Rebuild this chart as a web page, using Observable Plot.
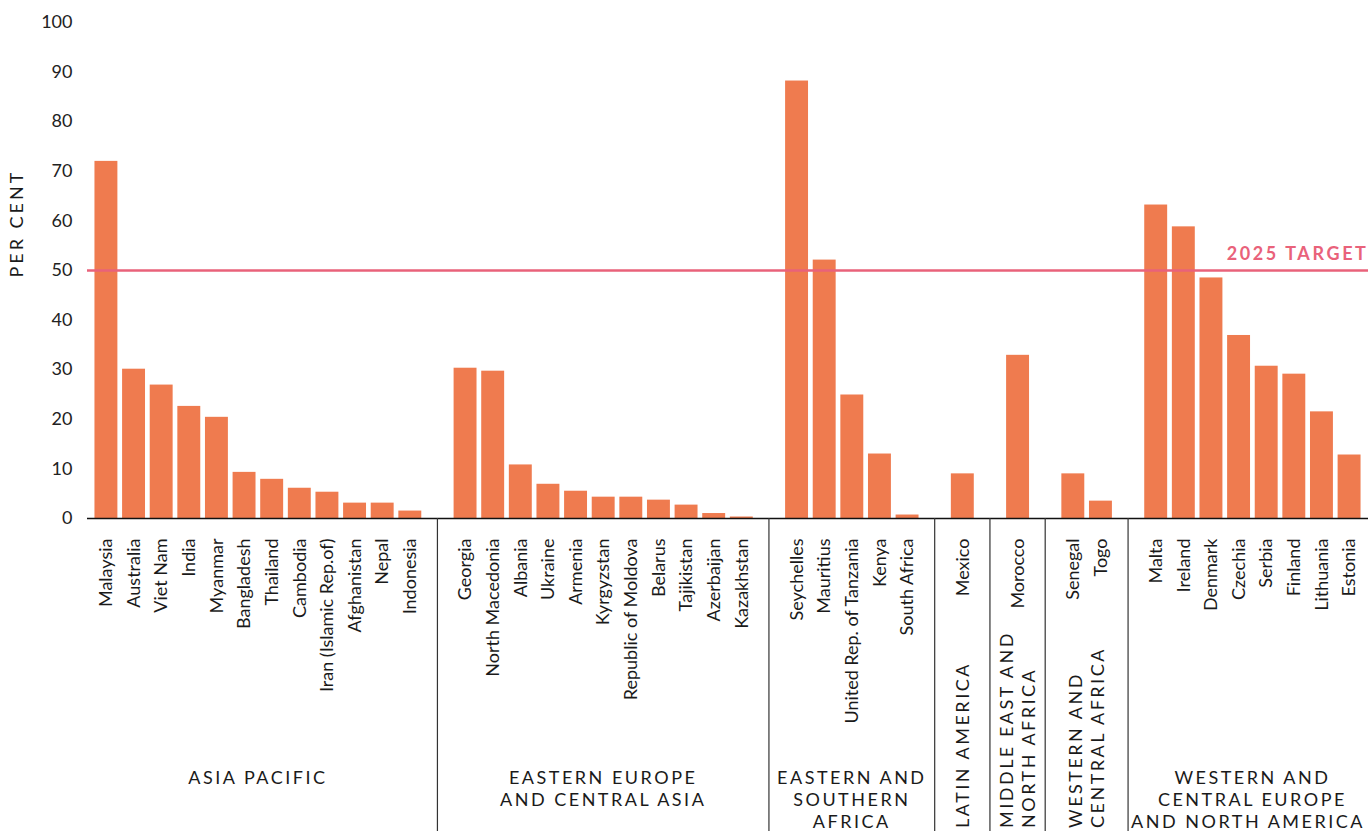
<!DOCTYPE html>
<html>
<head>
<meta charset="utf-8">
<script src="https://cdn.jsdelivr.net/npm/d3@7"></script>
<script src="https://cdn.jsdelivr.net/npm/@observablehq/plot@0.6"></script>
<style>
  html, body { margin: 0; padding: 0; background: #ffffff; }
  #chart svg { display: block; }
</style>
</head>
<body>
<div id="chart"></div>
<script>
// ---- Data ----
const regionLabels = [
  "ASIA PACIFIC",
  "EASTERN EUROPE\nAND CENTRAL ASIA",
  "EASTERN AND\nSOUTHERN\nAFRICA",
  "LATIN AMERICA",
  "MIDDLE EAST AND\nNORTH AFRICA",
  "WESTERN AND\nCENTRAL AFRICA",
  "WESTERN AND\nCENTRAL EUROPE\nAND NORTH AMERICA"
];
const regionVertical = [false, false, false, true, true, true, false];

const asiaPacificCountries = ["Malaysia", "Australia", "Viet Nam", "India", "Myanmar", "Bangladesh", "Thailand", "Cambodia", "Iran (Islamic Rep.of)", "Afghanistan", "Nepal", "Indonesia"];
const asiaPacificValues = [72, 30.1, 26.9, 22.6, 20.4, 9.3, 7.9, 6.1, 5.3, 3.1, 3.1, 1.5];

const easternEuropeCountries = ["Georgia", "North Macedonia", "Albania", "Ukraine", "Armenia", "Kyrgyzstan", "Republic of Moldova", "Belarus", "Tajikistan", "Azerbaijan", "Kazakhstan"];
const easternEuropeValues = [30.3, 29.7, 10.8, 6.9, 5.5, 4.3, 4.3, 3.7, 2.7, 1.0, 0.3];

const easternAfricaCountries = ["Seychelles", "Mauritius", "United Rep. of Tanzania", "Kenya", "South Africa"];
const easternAfricaValues = [88.2, 52.1, 24.9, 13.0, 0.7];

const latinAmericaCountries = ["Mexico"];
const latinAmericaValues = [9.0];

const middleEastCountries = ["Morocco"];
const middleEastValues = [32.9];

const westernAfricaCountries = ["Senegal", "Togo"];
const westernAfricaValues = [9.0, 3.5];

const westernEuropeCountries = ["Malta", "Ireland", "Denmark", "Czechia", "Serbia", "Finland", "Lithuania", "Estonia"];
const westernEuropeValues = [63.2, 58.8, 48.5, 36.9, 30.7, 29.1, 21.5, 12.8];

const target = 50;
const targetLabel = "2025 TARGET";
const yTicks = [0, 10, 20, 30, 40, 50, 60, 70, 80, 90, 100];
const yTitle = "PER CENT";

// ---- Styles ----
const barColor = "#ef7b4f";
const targetColor = "#e9627a";
const textColor = "#1a1a1a";

// ---- Build table ----
const groupCountries = [asiaPacificCountries, easternEuropeCountries, easternAfricaCountries, latinAmericaCountries, middleEastCountries, westernAfricaCountries, westernEuropeCountries];
const groupValues = [asiaPacificValues, easternEuropeValues, easternAfricaValues, latinAmericaValues, middleEastValues, westernAfricaValues, westernEuropeValues];

const rows = [];
const slots = [];
const gapSlots = [];
groupCountries.forEach((cs, gi) => {
  cs.forEach((c, i) => {
    rows.push({country: c, value: groupValues[gi][i], region: regionLabels[gi]});
    slots.push(c);
  });
  if (gi < groupCountries.length - 1) {
    const g = "__gap" + gi;
    slots.push(g);
    gapSlots.push(g);
  }
});

function regionDecor(index, scales, values, dims) {
  const x = scales.x, y = scales.y;
  let bw;
  if (scales.scales && scales.scales.x && typeof scales.scales.x.bandwidth === "number") bw = scales.scales.x.bandwidth;
  else if (typeof x.bandwidth === "function") bw = x.bandwidth();
  else if (typeof x.bandwidth === "number") bw = x.bandwidth;
  else bw = (x(slots[1]) - x(slots[0])) * 0.83;
  const y0 = y(0);
  const g = d3.create("svg:g").attr("class", "region-decor");
  gapSlots.forEach(s => {
    const cx = x(s) + bw / 2;
    g.append("line")
      .attr("x1", cx).attr("x2", cx)
      .attr("y1", y0).attr("y2", dims.height)
      .attr("stroke", "#333").attr("stroke-width", 1.2);
  });
  groupCountries.forEach((cs, gi) => {
    const x1 = x(cs[0]);
    const x2 = x(cs[cs.length - 1]) + bw;
    const cx = (x1 + x2) / 2;
    const lines = regionLabels[gi].split("\n");
    if (!regionVertical[gi]) {
      lines.forEach((ln, j) => {
        g.append("text")
          .attr("class", "region-h")
          .attr("x", cx).attr("y", y0 + 266 + j * 22)
          .attr("text-anchor", "middle")
          .attr("font-size", 18)
          .attr("letter-spacing", "2.5px")
          .attr("fill", textColor)
          .text(ln);
      });
    } else {
      const n = lines.length;
      lines.forEach((ln, j) => {
        const lx = cx + (j - (n - 1) / 2) * 22.5;
        const ly = dims.height - 3;
        g.append("text")
          .attr("transform", `translate(${lx},${ly}) rotate(-90)`)
          .attr("text-anchor", "start")
          .attr("dy", "0.36em")
          .attr("font-size", 18)
          .attr("letter-spacing", "2.5px")
          .attr("fill", textColor)
          .text(ln);
      });
    }
  });
  return g.node();
}

const chart = Plot.plot({
  width: 1368,
  height: 831,
  marginLeft: 87,
  marginRight: 0,
  marginTop: 22,
  marginBottom: 313,
  style: {fontFamily: "Lato, 'Noto Sans', sans-serif", background: "#ffffff", color: textColor, overflow: "hidden"},
  x: {type: "band", domain: slots, paddingInner: 0.17, paddingOuter: 0.27, round: false, axis: null},
  y: {domain: [0, 100], axis: null},
  marks: [
    Plot.barY(rows, {x: "country", y: "value", fill: barColor}),
    Plot.ruleY([target], {stroke: targetColor, strokeWidth: 2.5}),
    Plot.text([targetLabel], {y: () => target, frameAnchor: "right", textAnchor: "end", dx: 0, dy: -16, text: d => d, fill: targetColor, fontWeight: 700, fontSize: 18}),
    Plot.ruleY([0], {stroke: "#111", strokeWidth: 1.5}),
    Plot.axisY({ticks: yTicks, tickSize: 0, tickPadding: 15, fontSize: 18, label: null, color: "#222"}),
    Plot.text([yTitle], {frameAnchor: "left", dx: -70, dy: 7, rotate: -90, fontSize: 18, fill: textColor, text: d => d}),
    Plot.text(rows, {x: "country", text: "country", frameAnchor: "bottom", dy: 20, rotate: -90, textAnchor: "end", lineAnchor: "middle", fontSize: 18, fill: textColor}),
    regionDecor
  ]
});
// letter spacing for spaced caps labels
d3.select(chart).selectAll("text").each(function() {
  const t = this.textContent;
  if (t === targetLabel) d3.select(this).attr("letter-spacing", "2.6px");
  if (t === yTitle) d3.select(this).attr("letter-spacing", "3px");
});
document.getElementById("chart").appendChild(chart);
// keep wide horizontal region labels inside the right edge
d3.select(chart).selectAll("text.region-h").each(function() {
  const b = this.getBBox();
  const over = b.x + b.width - (1368 - 3);
  if (over > 0) d3.select(this).attr("x", +this.getAttribute("x") - over);
});
</script>
</body>
</html>
